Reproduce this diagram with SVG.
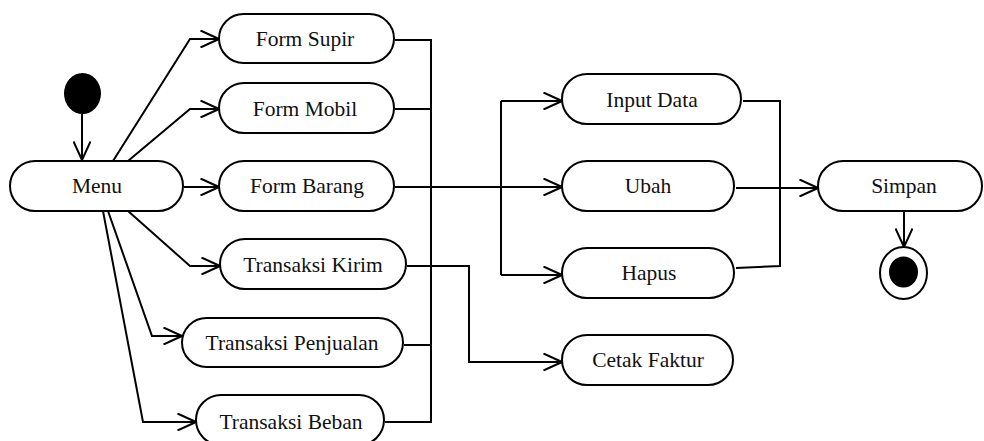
<svg xmlns="http://www.w3.org/2000/svg" width="984" height="441" viewBox="0 0 984 441">
<style>
.node rect{fill:#fff;stroke:#000;stroke-width:2}
.node text{font-family:"Liberation Serif","Times New Roman",serif;font-size:21.5px;fill:#111;text-anchor:middle}
.conn path,.conn line{fill:none;stroke:#000;stroke-width:2}
.arr{marker-end:url(#arrow)}
</style>
<defs>
<marker id="arrow" viewBox="0 0 20 18" refX="19.5" refY="9" markerWidth="20" markerHeight="18" markerUnits="userSpaceOnUse" orient="auto">
<path d="M1,0.5 L19.5,9 L1,17.5" fill="none" stroke="#000" stroke-width="2"/>
</marker>
</defs>
<rect width="984" height="441" fill="#fff"/>
<g class="conn">
<line class="arr" x1="82" y1="114" x2="82" y2="160"/>
<path class="arr" d="M113,161 L190,39 L219,39"/>
<path class="arr" d="M128,161 L190,109 L219,109"/>
<path class="arr" d="M184,187 L219,187"/>
<path class="arr" d="M128,211 L190,266 L220,266"/>
<path class="arr" d="M108,211 L152,336 L182,336"/>
<path class="arr" d="M103,211 L143,422 L196,422"/>
<path d="M395,40 L431,40 M395,109 L431,109 M404,345 L431,345 M385,422 L431,422 M431,39 L431,423"/>
<path class="arr" d="M395,187 L562,187"/>
<path class="arr" d="M407,266 L469,266 L469,362 L562,362"/>
<path d="M501,101 L501,275"/>
<path class="arr" d="M501,101 L562,101"/>
<path class="arr" d="M501,275 L562,275"/>
<path d="M743,101 L780,101 L780,266 L736,268"/>
<path class="arr" d="M736,188 L818,188"/>
<line class="arr" x1="904" y1="212" x2="904" y2="247"/>
</g>
<g id="start"><ellipse cx="82.5" cy="93.5" rx="18.5" ry="20.5" fill="#000"/></g>
<g id="menu" class="node"><rect x="10" y="161" width="173" height="50" rx="25"/><text x="97" y="193">Menu</text></g>
<g id="form-supir" class="node"><rect x="219" y="14" width="175" height="49" rx="24.5"/><text x="305" y="46">Form Supir</text></g>
<g id="form-mobil" class="node"><rect x="219" y="83" width="175" height="50" rx="25"/><text x="305" y="116">Form Mobil</text></g>
<g id="form-barang" class="node"><rect x="219" y="161" width="175" height="50" rx="25"/><text x="307" y="193">Form Barang</text></g>
<g id="transaksi-kirim" class="node"><rect x="220" y="239" width="186" height="50" rx="25"/><text x="313" y="272">Transaksi Kirim</text></g>
<g id="transaksi-penjualan" class="node"><rect x="182" y="318" width="221" height="49" rx="24.5"/><text x="292" y="350">Transaksi Penjualan</text></g>
<g id="transaksi-beban" class="node"><rect x="196" y="395" width="188" height="50" rx="25"/><text x="291" y="429">Transaksi Beban</text></g>
<g id="input-data" class="node"><rect x="562" y="74" width="179" height="50" rx="25"/><text x="652" y="107">Input Data</text></g>
<g id="ubah" class="node"><rect x="562" y="161" width="172" height="50" rx="25"/><text x="648" y="193">Ubah</text></g>
<g id="hapus" class="node"><rect x="562" y="248" width="172" height="50" rx="25"/><text x="649" y="280">Hapus</text></g>
<g id="cetak-faktur" class="node"><rect x="562" y="335" width="171" height="50" rx="25"/><text x="648" y="367">Cetak Faktur</text></g>
<g id="simpan" class="node"><rect x="818" y="161" width="164" height="50" rx="25"/><text x="904" y="193">Simpan</text></g>
<g id="end"><ellipse cx="903.5" cy="273" rx="23.5" ry="26" fill="#fff" stroke="#000" stroke-width="2"/><ellipse cx="903.5" cy="272" rx="14.5" ry="15.5" fill="#000"/></g>
</svg>
